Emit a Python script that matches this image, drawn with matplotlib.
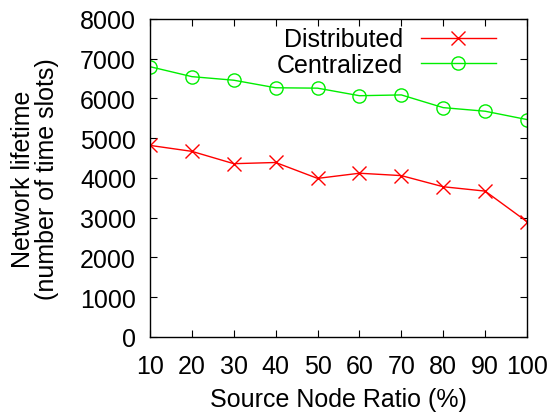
"""
Network lifetime vs. source node ratio, distributed vs centralized.
"""

import matplotlib
matplotlib.use("Agg")
import matplotlib.pyplot as plt

plt.rcParams["font.family"] = ["Liberation Sans", "DejaVu Sans"]

ratio = [10, 20, 30, 40, 50, 60, 70, 80, 90, 100]
distributed = [4820, 4670, 4360, 4390, 3990, 4120, 4060, 3780, 3670, 2900]
centralized = [6800, 6550, 6460, 6270, 6260, 6070, 6090, 5770, 5680, 5470]
y_ticks = [0, 1000, 2000, 3000, 4000, 5000, 6000, 7000, 8000]

fs = 18

fig = plt.figure(figsize=(5.5, 4.14), dpi=100)
ax = fig.add_axes([0.2727, 0.1836, 0.6855, 0.7681])

ax.plot(ratio, distributed, color="#ff0000", linewidth=1, marker="x",
        markersize=9.5, markeredgewidth=1, label="Distributed")
ax.plot(ratio, centralized, color="#00ee00", linewidth=1, marker="o",
        markersize=9.5, markerfacecolor="none", markeredgewidth=1, label="Centralized")

ax.set_xlim(10, 100)
ax.set_ylim(0, 8000)
ax.set_xticks(ratio)
ax.set_yticks(y_ticks)
ax.tick_params(direction="in", top=True, right=True, labelsize=fs, length=5)
ax.tick_params(axis="x", pad=12.5)
ax.tick_params(axis="y", pad=10)
for s in ax.spines.values():
    s.set_linewidth(1)

ax.set_xlabel("Source Node Ratio (%)", fontsize=fs, labelpad=6)
ax.set_ylabel("Network lifetime\n(number of time slots)", fontsize=fs, linespacing=1.0, labelpad=15)

ax.legend(loc="upper right", bbox_to_anchor=(0.95, 1.013), frameon=False,
          fontsize=fs, markerfirst=False, handlelength=3.0, borderaxespad=0.2,
          borderpad=0.3, labelspacing=0.05, handletextpad=0.7)

plt.savefig("out.png", dpi=100)
